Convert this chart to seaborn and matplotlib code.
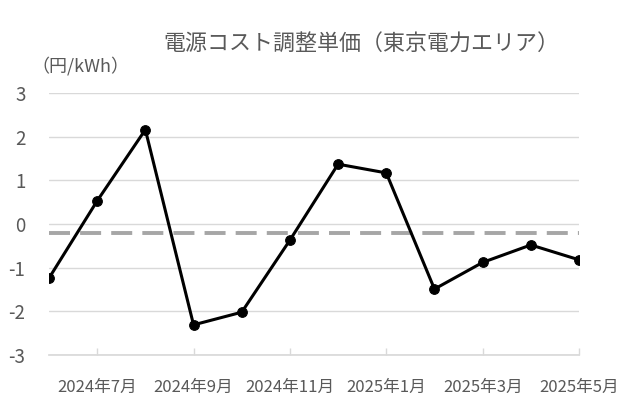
import matplotlib
matplotlib.use("Agg")
import matplotlib.pyplot as plt
import seaborn as sns
import pandas as pd

months = ["2024年6月", "2024年7月", "2024年8月", "2024年9月", "2024年10月", "2024年11月",
          "2024年12月", "2025年1月", "2025年2月", "2025年3月", "2025年4月", "2025年5月"]
unit_price = [-1.24, 0.53, 2.16, -2.31, -2.02, -0.37, 1.37, 1.17, -1.49, -0.88, -0.48, -0.82]
reference_level = -0.20
tick_labels = ["2024年7月", "2024年9月", "2024年11月", "2025年1月", "2025年3月", "2025年5月"]
y_ticks = [-3, -2, -1, 0, 1, 2, 3]

sns.set_theme(style="white")
plt.rcParams['font.family'] = ['Noto Sans CJK JP', 'DejaVu Sans']

df = pd.DataFrame({"idx": range(len(months)), "month": months, "value": unit_price})

fig = plt.figure(figsize=(6.4, 4.0), dpi=100)
ax = fig.add_axes([49/640, 1-355/400, (579-49)/640, (355-93)/400])

gray_text = "#595959"
for t in y_ticks:
    ax.axhline(t, color="#d9d9d9", lw=1, zorder=0)
ax.axhline(reference_level, color="#a6a6a6", lw=2.8, ls=(0, (5.4, 2.6)), zorder=1)

sns.lineplot(data=df, x="idx", y="value", ax=ax, color="black", lw=2.2,
             marker="o", markersize=7, markeredgecolor="black", zorder=3)

ax.set_xlim(0, 11)
ax.set_ylim(-3, 3)
ax.set_yticks(y_ticks)
ax.set_yticklabels([str(t) for t in y_ticks], color=gray_text, fontsize=13.5)
ax.set_xticks([1, 3, 5, 7, 9, 11])
ax.set_xticklabels(tick_labels, color=gray_text, fontsize=12)
ax.tick_params(axis="x", length=5, width=1, color="#d9d9d9", direction="in", pad=17, bottom=True)
ax.tick_params(axis="y", length=0, pad=17)
for side in ["top", "right", "left"]:
    ax.spines[side].set_visible(False)
ax.spines["bottom"].set_color("#d9d9d9")
ax.set_xlabel("")
ax.set_ylabel("")
ax.grid(False)

fig.text(361/640, 1-45/400, "電源コスト調整単価（東京電力エリア）", ha="center", va="center",
         fontsize=15.8, color=gray_text)
fig.text(80/640, 1-66/400, "（円/kWh）", ha="center", va="center", fontsize=13, color=gray_text)

fig.savefig("out.png", dpi=100, facecolor="white")
